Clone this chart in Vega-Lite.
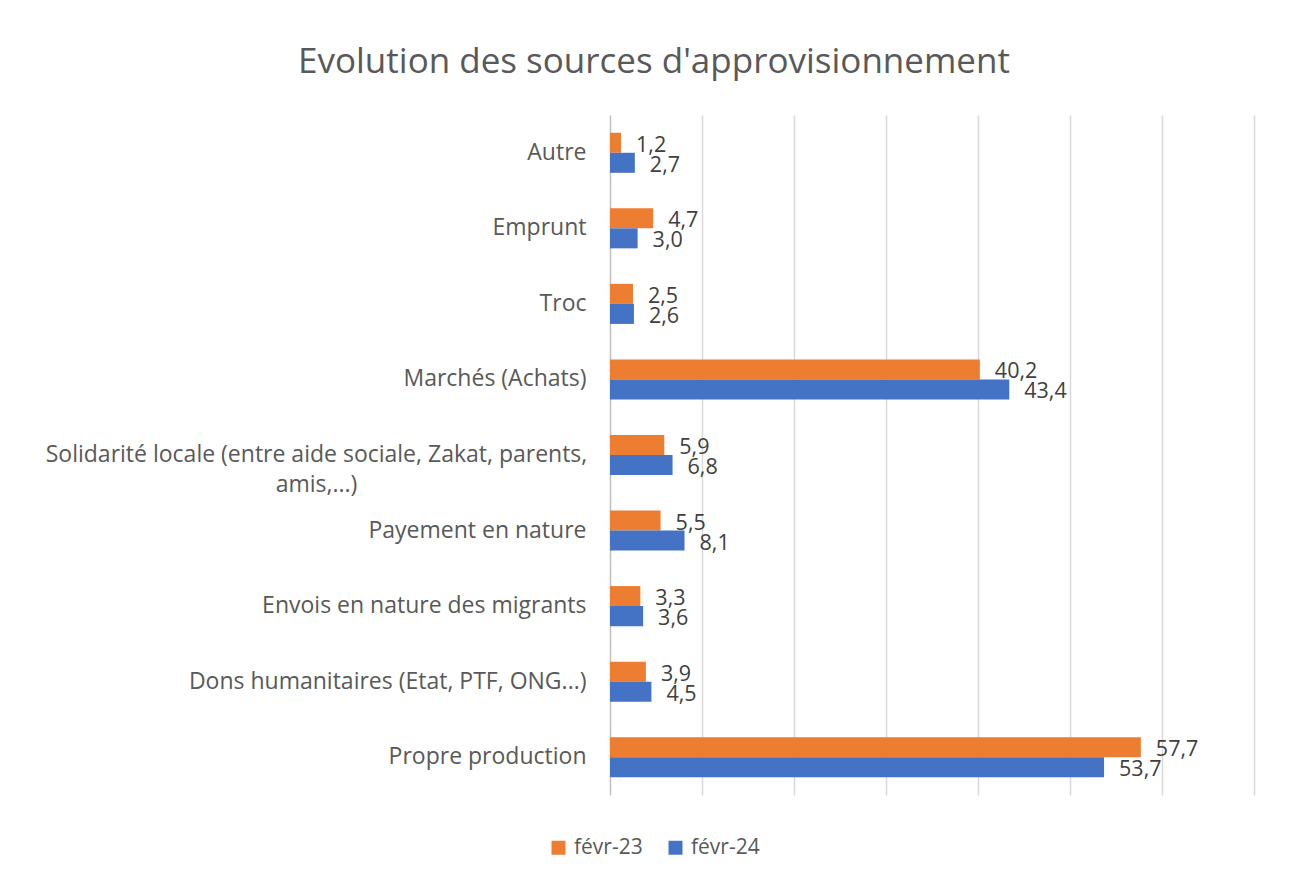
{
  "$schema": "https://vega.github.io/schema/vega-lite/v6.json",
  "width": 644,
  "height": 680,
  "autosize": "none",
  "padding": {"left": 610, "top": 115, "right": 37, "bottom": 85},
  "background": "white",
  "config": {
    "view": {"stroke": null},
    "font": "Open Sans",
    "locale": {"number": {"decimal": ",", "thousands": " ", "grouping": [3], "currency": ["", " €"]}}
  },
  "title": {
    "text": "Evolution des sources d'approvisionnement",
    "fontSize": 35,
    "font": "Open Sans",
    "fontWeight": "normal",
    "color": "#595959",
    "anchor": "middle",
    "dx": -278,
    "offset": 35
  },
  "data": {
    "values": [
      {"cat": "Autre", "serie": "févr-23", "val": 1.2},
      {"cat": "Autre", "serie": "févr-24", "val": 2.7},
      {"cat": "Emprunt", "serie": "févr-23", "val": 4.7},
      {"cat": "Emprunt", "serie": "févr-24", "val": 3.0},
      {"cat": "Troc", "serie": "févr-23", "val": 2.5},
      {"cat": "Troc", "serie": "févr-24", "val": 2.6},
      {"cat": "Marchés (Achats)", "serie": "févr-23", "val": 40.2},
      {"cat": "Marchés (Achats)", "serie": "févr-24", "val": 43.4},
      {"cat": "Solidarité locale (entre aide sociale, Zakat, parents, amis,...)", "serie": "févr-23", "val": 5.9},
      {"cat": "Solidarité locale (entre aide sociale, Zakat, parents, amis,...)", "serie": "févr-24", "val": 6.8},
      {"cat": "Payement en nature", "serie": "févr-23", "val": 5.5},
      {"cat": "Payement en nature", "serie": "févr-24", "val": 8.1},
      {"cat": "Envois en nature des migrants", "serie": "févr-23", "val": 3.3},
      {"cat": "Envois en nature des migrants", "serie": "févr-24", "val": 3.6},
      {"cat": "Dons humanitaires (Etat, PTF, ONG...)", "serie": "févr-23", "val": 3.9},
      {"cat": "Dons humanitaires (Etat, PTF, ONG...)", "serie": "févr-24", "val": 4.5},
      {"cat": "Propre production", "serie": "févr-23", "val": 57.7},
      {"cat": "Propre production", "serie": "févr-24", "val": 53.7}
    ]
  },
  "encoding": {
    "y": {
      "field": "cat",
      "type": "nominal",
      "sort": null,
      "scale": {"paddingInner": 0.47, "paddingOuter": 0.235},
      "axis": {
        "title": null,
        "ticks": false,
        "domainColor": "#BFBFBF",
        "domainWidth": 1.5,
        "labelFontSize": 23,
        "labelColor": "#595959",
        "labelPadding": {"condition": {"test": "indexof(datum.value, 'Solidarit') == 0", "value": 294}, "value": 24},
        "labelAlign": {"condition": {"test": "indexof(datum.value, 'Solidarit') == 0", "value": "center"}, "value": "right"},
        "labelLimit": 700,
        "labelLineHeight": 30,
        "labelExpr": "indexof(datum.value, 'Solidarit') == 0 ? ['Solidarité locale (entre aide sociale, Zakat, parents,', 'amis,...)'] : datum.value"
      }
    },
    "yOffset": {"field": "serie", "type": "nominal", "sort": ["févr-23", "févr-24"], "scale": {"paddingInner": 0, "paddingOuter": 0}},
    "x": {
      "field": "val",
      "type": "quantitative",
      "scale": {"domain": [0, 70], "nice": false},
      "axis": {
        "title": null,
        "labels": false,
        "ticks": false,
        "domain": false,
        "values": [10, 20, 30, 40, 50, 60, 70],
        "gridColor": "#D9D9D9",
        "gridWidth": 1.5
      }
    }
  },
  "layer": [
    {
      "mark": {"type": "bar"},
      "encoding": {
        "color": {
          "field": "serie",
          "type": "nominal",
          "scale": {"domain": ["févr-23", "févr-24"], "range": ["#ED7D31", "#4472C4"]},
          "legend": {
            "title": null,
            "orient": "none",
            "direction": "horizontal",
            "legendX": -62,
            "legendY": 722,
            "symbolType": "square",
            "symbolSize": 196,
            "symbolStrokeWidth": 0,
            "labelFontSize": 21,
            "labelColor": "#595959",
            "labelOffset": 5,
            "columnPadding": 22
          }
        }
      }
    },
    {
      "mark": {"type": "text", "align": "left", "baseline": "middle", "dx": 15, "dy": 3, "fontSize": 21.5, "color": "#404040"},
      "encoding": {
        "text": {"field": "val", "type": "quantitative", "format": ".1f"}
      }
    }
  ]
}
